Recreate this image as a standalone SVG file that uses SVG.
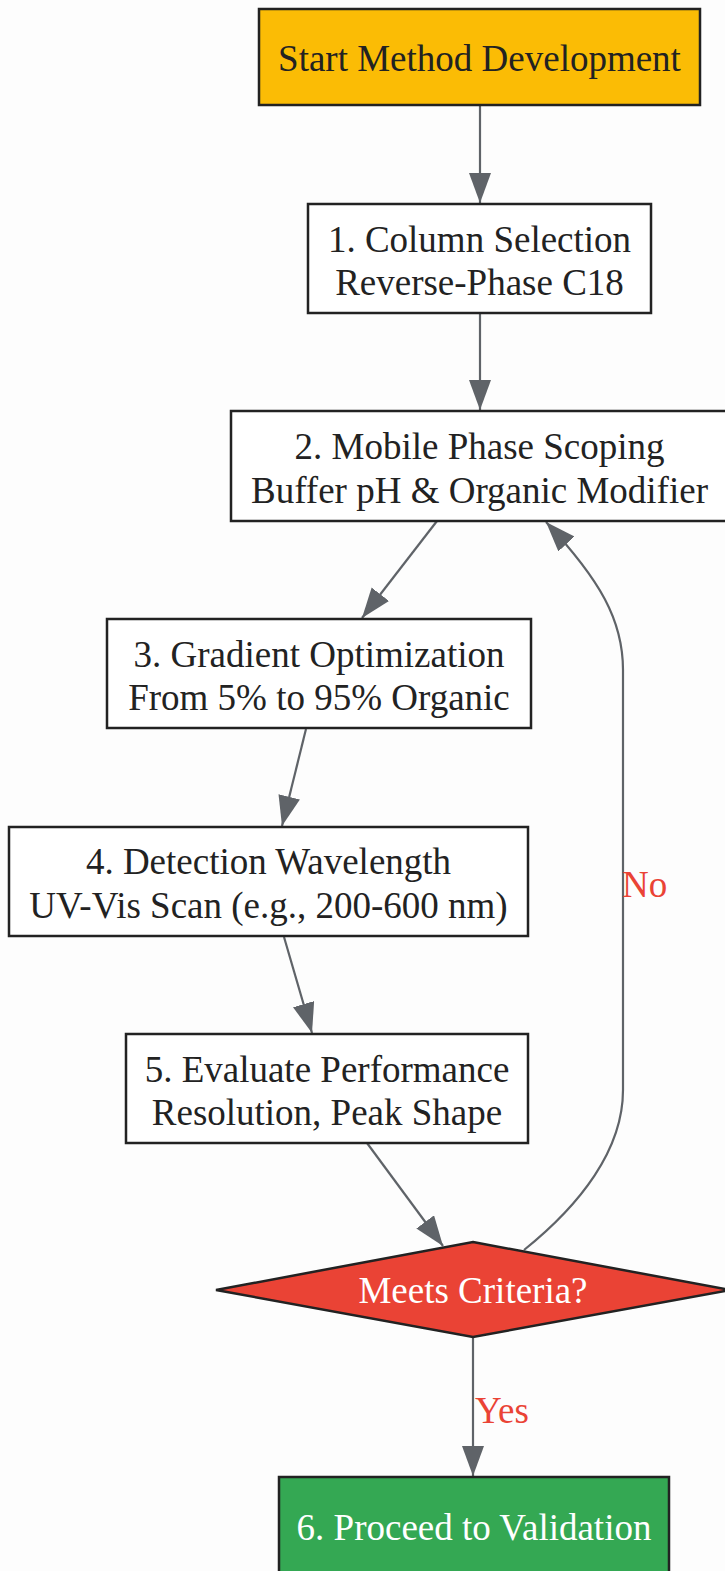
<svg xmlns="http://www.w3.org/2000/svg" width="725" height="1571" viewBox="0 0 725 1571">
<style>
.node{stroke:#222;stroke-width:2.5}
.box{fill:#fff}
.t{font-family:"Liberation Serif",serif;font-size:37px;text-anchor:middle;fill:#222}
.w{fill:#fff}
.e{fill:none;stroke:#5f6368;stroke-width:2.2}
.lbl{font-family:"Liberation Serif",serif;font-size:37px;fill:#ea4335}
</style>
<defs>
<marker id="ah" markerUnits="userSpaceOnUse" markerWidth="32" markerHeight="24" refX="30" refY="11" orient="auto">
<path d="M0,0 L30,11 L0,22 Z" fill="#5f6368"/>
</marker>
</defs>
<rect width="725" height="1571" fill="#fdfdfd"/>
<g id="connectors">
<path class="e" d="M480,105 L480,203" marker-end="url(#ah)"/>
<path class="e" d="M480,313 L480,410" marker-end="url(#ah)"/>
<path class="e" d="M437,521 L362,618" marker-end="url(#ah)"/>
<path class="e" d="M306,729 L282,826" marker-end="url(#ah)"/>
<path class="e" d="M284,937 L312,1033" marker-end="url(#ah)"/>
<path class="e" d="M367,1143 L443,1246" marker-end="url(#ah)"/>
<path class="e" d="M473,1337 L473,1476" marker-end="url(#ah)"/>
<path class="e" d="M524,1250 C580,1205 623,1150 623,1090 L623,670 C623,620 600,580 546,522" marker-end="url(#ah)"/>
<text class="lbl" x="475" y="1423">Yes</text>
<text class="lbl" x="622" y="897">No</text>
</g>
<g id="start">
<rect class="node" x="259" y="9" width="441" height="96" fill="#fbbc05"/>
<text class="t" x="479.5" y="71">Start Method Development</text>
</g>
<g id="n1">
<rect class="node box" x="308" y="204" width="343" height="109"/>
<text class="t" x="479.5" y="252">1. Column Selection</text>
<text class="t" x="479.5" y="295">Reverse-Phase C18</text>
</g>
<g id="n2">
<rect class="node box" x="231" y="411" width="500" height="110"/>
<text class="t" x="479.5" y="459">2. Mobile Phase Scoping</text>
<text class="t" x="479.5" y="503">Buffer pH &amp; Organic Modifier</text>
</g>
<g id="n3">
<rect class="node box" x="107" y="619" width="424" height="109"/>
<text class="t" x="319" y="667">3. Gradient Optimization</text>
<text class="t" x="319" y="710">From 5% to 95% Organic</text>
</g>
<g id="n4">
<rect class="node box" x="9" y="827" width="519" height="109"/>
<text class="t" x="268.5" y="874">4. Detection Wavelength</text>
<text class="t" x="268.5" y="918">UV-Vis Scan (e.g., 200-600 nm)</text>
</g>
<g id="n5">
<rect class="node box" x="126" y="1034" width="402" height="109"/>
<text class="t" x="327" y="1082">5. Evaluate Performance</text>
<text class="t" x="327" y="1125">Resolution, Peak Shape</text>
</g>
<g id="decision">
<polygon class="node" points="473,1242 730,1290 473,1337 216,1290" fill="#ea4335"/>
<text class="t w" x="473" y="1303">Meets Criteria?</text>
</g>
<g id="n6">
<rect class="node" x="279" y="1477" width="390" height="110" fill="#34a853"/>
<text class="t w" x="474" y="1540">6. Proceed to Validation</text>
</g>
</svg>
